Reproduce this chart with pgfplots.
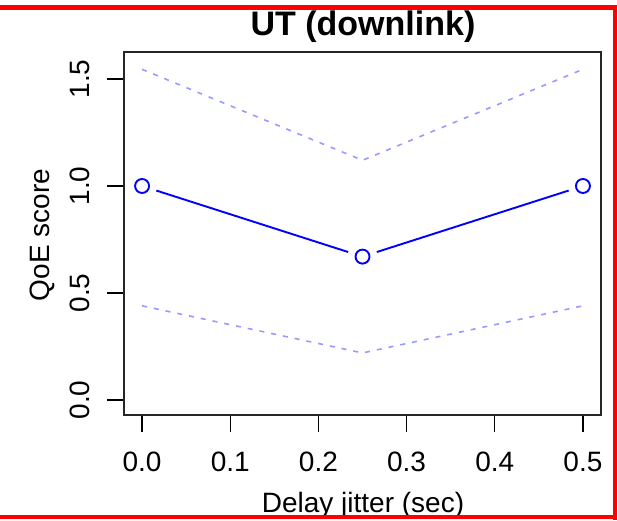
\documentclass[border=0pt]{standalone}
\usepackage{pgfplots}
\pgfplotsset{compat=1.18}
\usepackage{fontspec}
\setmainfont{Liberation Sans}

\begin{document}
\begin{tikzpicture}
  \useasboundingbox (0,0) rectangle (617pt,520pt);
  \begin{axis}[
      at={(124pt,105pt)}, anchor=south west,
      scale only axis, width=477pt, height=363pt,
      xmin=-0.0205, xmax=0.5205, ymin=-0.07, ymax=1.626,
      xtick={0,0.1,0.2,0.3,0.4,0.5},
      ytick={0,0.5,1,1.5},
      xtick pos=lower, ytick pos=left,
      tick align=outside, major tick length=17pt,
      tick style={line width=1.3pt, black},
      axis line style={line width=1.5pt, black!85},
      /pgf/number format/assume math mode=true,
      /pgf/number format/.cd, fixed, fixed zerofill, precision=1, /pgfplots/.cd,
      tick label style={font=\fontsize{28}{33}\selectfont},
      xticklabel style={anchor=base, yshift=-39pt},
      yticklabel style={rotate=90, anchor=base, yshift=18pt},
      clip=false,
    ]
    % upper and lower bounds (dotted)
    \addplot[blue!40, line width=1.6pt, dash pattern=on 5pt off 7pt]
      coordinates {(0,1.545) (0.25,1.12) (0.5,1.545)};
    \addplot[blue!40, line width=1.6pt, dash pattern=on 5pt off 7pt]
      coordinates {(0,0.44) (0.25,0.22) (0.5,0.44)};
    % mean, drawn as type "b"
    \addplot[blue, line width=1.9pt, shorten <=15pt, shorten >=15pt]
      coordinates {(0,1) (0.25,0.67)};
    \addplot[blue, line width=1.9pt, shorten <=15pt, shorten >=15pt]
      coordinates {(0.25,0.67) (0.5,1)};
    \addplot[blue, only marks, mark=o, mark size=7pt,
             mark options={line width=1.9pt}]
      coordinates {(0,1) (0.25,0.67) (0.5,1)};
  \end{axis}
  \node[anchor=base, font=\bfseries\fontsize{34}{40}\selectfont]
    at (363pt,484pt) {UT (downlink)};
  \node[anchor=base, font=\fontsize{28}{33}\selectfont]
    at (363pt,8pt) {Delay jitter (sec)};
  \node[anchor=base, rotate=90, font=\fontsize{28}{33}\selectfont]
    at (49pt,285pt) {QoE score};
  % red frame
  \draw[red, line width=5pt] (0,512.5pt) -- (615pt,512.5pt);
  \draw[red, line width=4pt] (615pt,515pt) -- (615pt,0) (0,3.5pt) -- (617pt,3.5pt);
\end{tikzpicture}
\end{document}
